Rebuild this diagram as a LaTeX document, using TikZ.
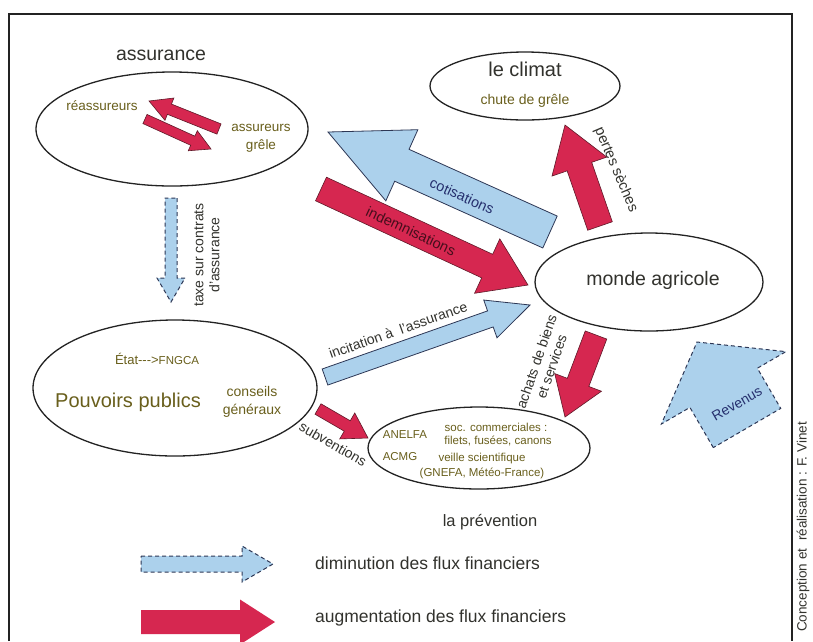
\documentclass[tikz,border=0pt]{standalone}
\usepackage{fontspec}
\setmainfont{Liberation Sans}
\usetikzlibrary{shapes.geometric,calc}

\definecolor{fluxblue}{RGB}{172,209,236}
\definecolor{fluxred}{RGB}{214,39,80}
\definecolor{inkline}{RGB}{35,35,35}
\definecolor{txtolive}{RGB}{105,95,28}
\definecolor{txtdark}{RGB}{50,50,45}
\definecolor{navyink}{RGB}{38,48,110}
\definecolor{maroonink}{RGB}{70,14,28}
\definecolor{blueedge}{RGB}{45,55,85}
\definecolor{rededge}{RGB}{95,25,40}

% broad flow arrow: [style]{tail}{tip}{half shaft}{half head}{head length}
\newcommand{\fluxarrow}[6][]{%
  \path ($(#3)!#6!(#2)$) coordinate (fa-base);
  \draw[#1] ($(#2)!#4!90:(#3)$) -- ($(fa-base)!#4!90:(#3)$)
    -- ($(fa-base)!#5!90:(#3)$) -- (#3) -- ($(fa-base)!#5!-90:(#3)$)
    -- ($(fa-base)!#4!-90:(#3)$) -- ($(#2)!#4!-90:(#3)$) -- cycle;}

\tikzset{
  zone/.style={ellipse, draw=inkline, line width=1.3pt, inner sep=0pt},
  redflux/.style={fill=fluxred, draw=rededge, line width=0.6pt},
  blueflux/.style={fill=fluxblue, draw=blueedge, line width=0.8pt},
  bluedash/.style={fill=fluxblue, draw=blueedge, line width=1pt, dash pattern=on 4pt off 3pt},
  txt/.style={inner sep=0pt, text=txtdark},
  big/.style={txt, font=\fontsize{19.5}{22}\selectfont},
  mid/.style={txt, font=\fontsize{14}{15}\selectfont},
  small/.style={txt, text=txtolive, font=\fontsize{11.5}{13.5}\selectfont},
}

\begin{document}
\begin{tikzpicture}[x=1pt, y=-1pt]
\useasboundingbox (0,0) rectangle (813,641);
\fill[white] (0,0) rectangle (813,641);

% frame
\draw[inkline, line width=1.4pt] (9,641) -- (9,14) -- (792,14) -- (792,641);

% zones
\node[zone, minimum width=272pt, minimum height=114pt] (assur) at (172,129) {};
\node[zone, minimum width=190pt, minimum height=68pt] (climat) at (525,86) {};
\node[zone, minimum width=228pt, minimum height=98pt] (monde) at (649,282) {};
\node[zone, minimum width=284pt, minimum height=136pt] (pouv) at (175,388) {};
\node[zone, minimum width=222pt, minimum height=82pt] (prev) at (479,448) {};

% zone texts
\node[big] (assurT) at (161,55) {assurance};
\node[mid, text=txtolive, font=\fontsize{13.5}{15}\selectfont] (reass) at (102,106) {réassureurs};
\node[mid, text=txtolive, align=center, font=\fontsize{13.5}{18}\selectfont] (assgr) at (261,138) {assureurs\\grêle};

\node[big, font=\fontsize{20}{22}\selectfont] (climT) at (525,69) {le climat};
\node[mid, text=txtolive] (grele) at (525,101) {chute de grêle};

\node[big] (mondeT) at (653,280) {monde agricole};

\node[mid, text=txtolive, font=\fontsize{13}{15}\selectfont] (etat) at (157,359) {État-{}-{}->{\fontsize{11.5}{13}\selectfont FNGCA}};
\node[big, text=txtolive, font=\fontsize{20}{22}\selectfont] (pouvT) at (128,402) {Pouvoirs publics};
\node[mid, text=txtolive, align=center, font=\fontsize{14}{18}\selectfont] (cg) at (252,402) {conseils\\généraux};

\node[small] (anelfa) at (405,435) {ANELFA};
\node[small] (acmg) at (400,457) {ACMG};
\node[small] (soc) at (496,427) {soc. commerciales :};
\node[small] (filets) at (498,441) {filets, fusées, canons};
\node[small] (veille) at (482,459) {veille scientifique};
\node[small] (gnefa) at (482,473) {(GNEFA, Météo-France)};
\node[big, font=\fontsize{16.5}{18}\selectfont] (prevT) at (490,522) {la prévention};

% flow end points
\coordinate (cot-tail) at (550,232);  \coordinate (cot-tip) at (328,132);
\coordinate (ind-tail) at (321,189);  \coordinate (ind-tip) at (528,285);
\coordinate (inc-tail) at (325,377);  \coordinate (inc-tip) at (530,305);
\coordinate (sub-tail) at (318,409);  \coordinate (sub-tip) at (368,438);
\coordinate (ach-tail) at (596,335);  \coordinate (ach-tip) at (565,417);
\coordinate (per-tail) at (600,226);  \coordinate (per-tip) at (565,125);
\coordinate (tax-tail) at (171,198);  \coordinate (tax-tip) at (171,302);
\coordinate (rev-tail) at (747,428);  \coordinate (rev-tip) at (697,342);
\coordinate (re1-tail) at (219,129);  \coordinate (re1-tip) at (149,101);
\coordinate (re2-tail) at (145,119);  \coordinate (re2-tip) at (211,149);
\coordinate (lgb-tail) at (141,564);  \coordinate (lgb-tip) at (273,564);
\coordinate (lgr-tail) at (141,622);  \coordinate (lgr-tip) at (275,622);

% flows
\fluxarrow[redflux]{re1-tail}{re1-tip}{5.5pt}{12pt}{22pt}
\fluxarrow[redflux]{re2-tail}{re2-tip}{5pt}{11pt}{20pt}
\fluxarrow[blueflux]{cot-tail}{cot-tip}{17.5pt}{39pt}{81pt}
\fluxarrow[redflux]{ind-tail}{ind-tip}{13pt}{30pt}{45pt}
\fluxarrow[blueflux]{inc-tail}{inc-tip}{8.5pt}{20pt}{42pt}
\fluxarrow[redflux]{sub-tail}{sub-tip}{6pt}{15pt}{24pt}
\fluxarrow[redflux]{ach-tail}{ach-tip}{11.5pt}{25pt}{37pt}
\fluxarrow[redflux]{per-tail}{per-tip}{13pt}{29pt}{44pt}
\fluxarrow[bluedash]{tax-tail}{tax-tip}{6pt}{14pt}{24pt}
\fluxarrow[bluedash]{rev-tail}{rev-tip}{39pt}{72pt}{53pt}

% flow labels
\node[mid, text=navyink, rotate=-24, font=\fontsize{14.5}{16}\selectfont] (cotT) at (462,196) {cotisations};
\node[mid, text=maroonink, rotate=-25, font=\fontsize{14.5}{16}\selectfont] (indT) at (411,231) {indemnisations};
\node[mid, rotate=19.4] (incT) at (398,330) {incitation à\hspace{4pt} l'assurance};
\node[mid, rotate=-30] (subT) at (333,444) {subventions};
\node[mid, rotate=71, align=center, font=\fontsize{14}{16}\selectfont] (achT) at (544,364) {achats de biens\\et services};
\node[mid, rotate=-67, font=\fontsize{14.5}{16}\selectfont] (perT) at (616,170) {pertes sèches};
\node[mid, rotate=90, align=center, font=\fontsize{14}{16}\selectfont] (taxT) at (207,255) {taxe sur contrats\\d'assurance};
\node[mid, text=navyink, rotate=30, font=\fontsize{14}{16}\selectfont] (revT) at (737,404) {Revenus};

% legend
\fluxarrow[bluedash]{lgb-tail}{lgb-tip}{8pt}{18pt}{31pt}
\fluxarrow[fill=fluxred, draw=none]{lgr-tail}{lgr-tip}{12pt}{22.5pt}{35pt}
\node[txt, anchor=west, font=\fontsize{17.5}{20}\selectfont] (lgbT) at (315,563) {diminution des flux financiers};
\node[txt, anchor=west, font=\fontsize{17.5}{20}\selectfont] (lgrT) at (315,618) {augmentation des flux financiers};

% credit
\node[txt, rotate=90, font=\fontsize{13.5}{15}\selectfont] (credit) at (803,527) {Conception et\hspace{4pt} réalisation : F. Vinet};
\end{tikzpicture}
\end{document}
